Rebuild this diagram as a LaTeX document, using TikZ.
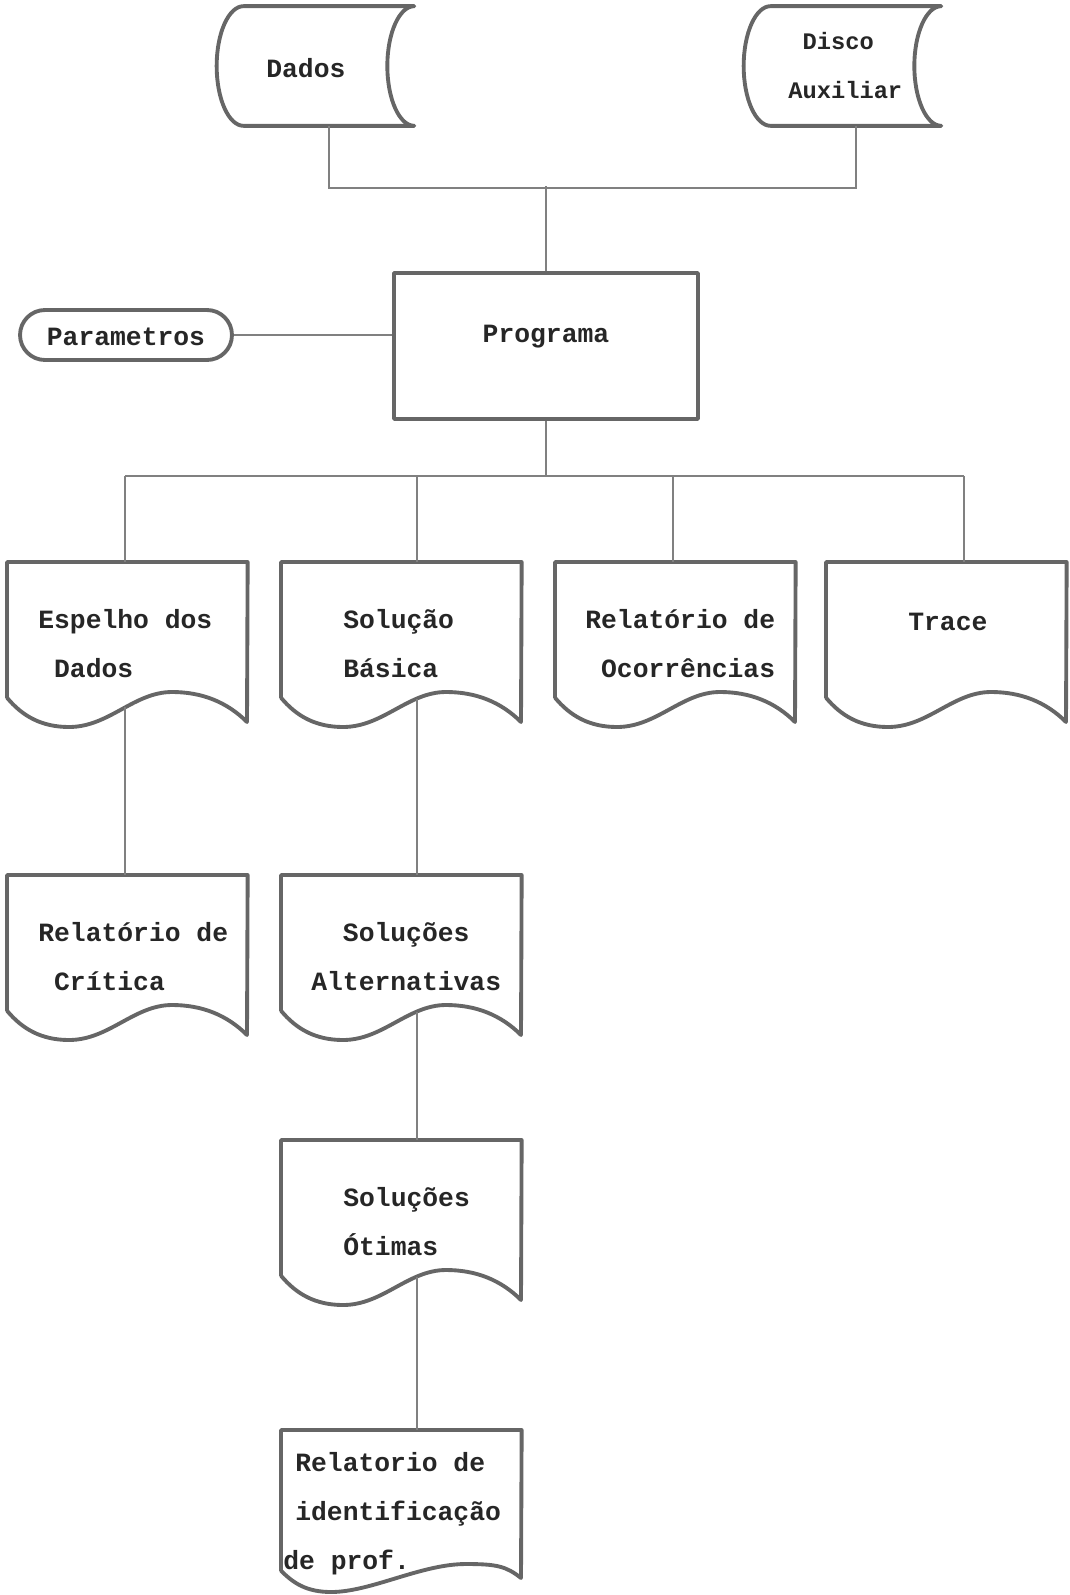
\documentclass[tikz,border=0pt]{standalone}
\usepackage{fontspec}
\setmonofont{Liberation Mono}
\usepackage{tikz}
\usetikzlibrary{calc}
\tikzstyle{outline} = [draw=black!60, line width=2.2pt, line join=round, line cap=round]
\tikzstyle{link} = [draw=black!50, line width=1.3pt]
\tikzstyle{txt} = [font=\ttfamily\bfseries\fontsize{15}{27.8}\selectfont, text=black!85, inner sep=0pt, align=left, execute at begin node={\rule{0pt}{12pt}}]
\tikzstyle{stored} = [minimum width=3.4cm, minimum height=2.38cm, inner sep=0pt]
\tikzstyle{procbox} = [outline, txt, minimum width=6.08cm, minimum height=2.92cm]
\tikzstyle{terminal} = [outline, txt, rounded corners=0.5cm, minimum width=4.24cm, minimum height=1cm]
\tikzstyle{doc} = [minimum width=4.8cm, minimum height=2.7cm, inner sep=0pt, anchor=north west]

\newcommand{\storedoutline}[1]{%
  \draw[outline] (#1.north west) -- (#1.north east)
    .. controls +(-15,0) and +(0,-33) .. ($(#1.east)+(-27,0)$)
    .. controls +(0,33) and +(-15,0) .. (#1.south east)
    -- (#1.south west)
    .. controls +(-15,0) and +(0,33) .. ($(#1.west)+(-27,0)$)
    .. controls +(0,-33) and +(-15,0) .. (#1.north west);}
\newcommand{\docoutline}[1]{%
  \draw[outline] (#1.south west) -- (#1.north west) -- (#1.north east)
    -- ($(#1.north west)+(240,160)$)
    .. controls +(-20,-20) and +(30,0) .. ($(#1.north west)+(165,130)$)
    .. controls +(-38,0) and +(40,0) .. ($(#1.north west)+(62,165)$)
    .. controls +(-28,0) and +(15,18) .. (#1.south west);}

\begin{document}
\begin{tikzpicture}[x=0.02cm, y=-0.02cm]
    \useasboundingbox (0,0) rectangle (1069,1595);
    % entradas
    \node[stored] (dados) at (329,66) {};
    \node[txt, anchor=north west] (dados-t) at (266,56) {Dados};
    \node[stored] (disco) at (856,66) {};
    \node[txt, font=\ttfamily\bfseries\fontsize{13.5}{27.8}\selectfont, anchor=north west] (disco-t) at (788,32) {\phantom{x}Disco\\Auxiliar};
    \storedoutline{dados}
    \storedoutline{disco}
    \node[procbox, text depth=0.55cm] (prog) at (546,346) {Programa};
    \node[terminal] (param) at (126,335) {Parametros};
    \draw[link] (dados.south) -- ++(0,62) -| (disco.south);
    \draw[link] (prog.north) -- ++(0,-85);
    \draw[link] (param) -- (prog.west |- param);
    % relatorios
    \node[doc] (esp) at (7,562) {};
    \node[doc] (bas) at (281,562) {};
    \node[doc] (oco) at (555,562) {};
    \node[doc] (trc) at (826,562) {};
    \node[doc] (cri) at (7,875) {};
    \node[doc] (alt) at (281,875) {};
    \node[doc] (oti) at (281,1140) {};
    \node[doc, minimum height=2.8cm] (ide) at (281,1430) {};
    \foreach \d in {esp, bas, oco, trc, cri, alt, oti} {\docoutline{\d}}
    \draw[outline] (ide.south west) -- (ide.north west) -- (ide.north east)
        -- ($(ide.north west)+(240,148)$)
        .. controls +(-15,-12) and +(30,0) .. ($(ide.north west)+(185,134)$)
        .. controls +(-45,0) and +(40,0) .. ($(ide.north west)+(50,162)$)
        .. controls +(-25,0) and +(12,12) .. (ide.south west);
    \node[txt, anchor=north west] (esp-t) at ($(esp.north west)+(31,47)$) {Espelho dos\\\phantom{x}Dados};
    \node[txt, anchor=north west] (bas-t) at ($(bas.north west)+(62,47)$) {Solução\\Básica};
    \node[txt, anchor=north west] (oco-t) at ($(oco.north west)+(30,47)$) {Relatório de\\\phantom{x}Ocorrências};
    \node[txt, anchor=north west] (trc-t) at ($(trc.north west)+(82,47)$) {Trace};
    \node[txt, anchor=north west] (cri-t) at ($(cri.north west)+(31,47)$) {Relatório de\\\phantom{x}Crítica};
    \node[txt, anchor=north west] (alt-t) at ($(alt.north west)+(30,47)$) {\phantom{xx}Soluções\\Alternativas};
    \node[txt, anchor=north west] (oti-t) at ($(oti.north west)+(62,47)$) {Soluções\\Ótimas};
    \node[txt, anchor=north west] (ide-t) at ($(ide.north west)+(14,22)$) {Relatorio de\\identificação\\\hspace*{-0.24cm}de prof.};
    % ligacoes
    \coordinate (esp-in) at ($(esp.north west)+(118,0)$);
    \coordinate (bas-in) at ($(bas.north west)+(136,0)$);
    \coordinate (oco-in) at ($(oco.north west)+(118,0)$);
    \coordinate (trc-in) at ($(trc.north west)+(138,0)$);
    \draw[link] (prog.south) -- ++(0,55) coordinate (bus);
    \draw[link] (esp-in |- bus) -- (trc-in |- bus);
    \foreach \d in {esp, bas, oco, trc} {\draw[link] (\d-in) -- (\d-in |- bus);}
    \coordinate (esp-out) at ($(esp.north west)+(118,145)$);
    \coordinate (bas-out) at ($(bas.north west)+(136,137)$);
    \coordinate (alt-out) at ($(alt.north west)+(136,137)$);
    \coordinate (oti-out) at ($(oti.north west)+(136,137)$);
    \draw[link] (esp-out) -- (esp-out |- cri.north);
    \draw[link] (bas-out) -- (bas-out |- alt.north);
    \draw[link] (alt-out) -- (alt-out |- oti.north);
    \draw[link] (oti-out) -- (oti-out |- ide.north);
\end{tikzpicture}
\end{document}
